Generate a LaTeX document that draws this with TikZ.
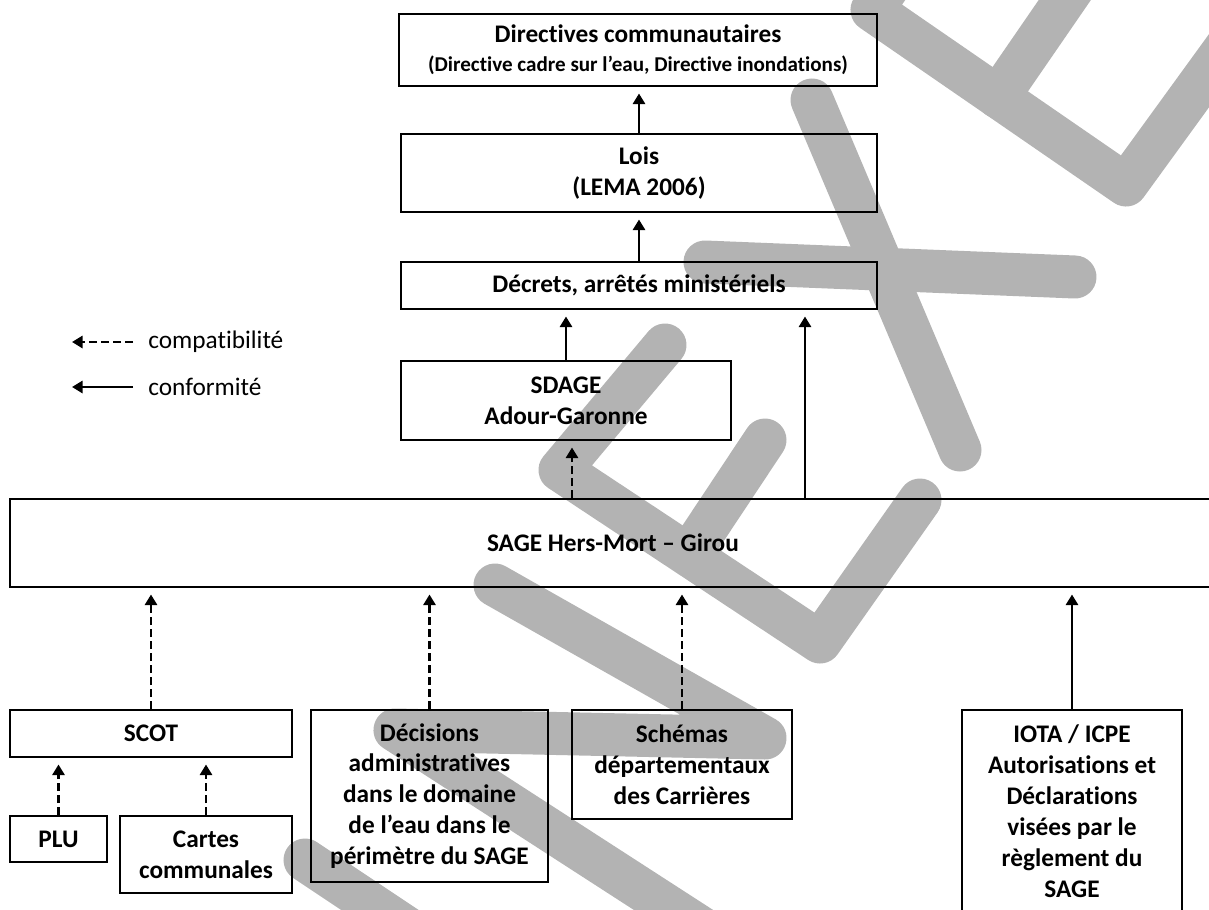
\documentclass[tikz,border=0pt]{standalone}
\usepackage{fontspec}
\setmainfont{Carlito}[Ligatures={TeX,NoCommon}]
\usetikzlibrary{arrows.meta}
\definecolor{filigrane}{RGB}{179,179,179}
\tikzset{
  box/.style={draw, line width=0.4mm, inner sep=0pt, align=center,
    font=\fontsize{14.4}{17.6}\selectfont\bfseries},
  legende/.style={inner sep=0pt, font=\fontsize{14.4}{17.6}\selectfont},
  conf/.style={line width=0.54mm, -{Triangle[length=2.1mm,width=2.4mm]}, shorten >=1.3mm},
  compat/.style={conf, dash pattern=on 1.6mm off 0.8mm},
  lettre/.style={filigrane, line width=8.6mm, line cap=round, line join=round},
}
\begin{document}
\begin{tikzpicture}[x=0.2mm, y=-0.2mm]
\useasboundingbox (0,0) rectangle (1209,910);
\clip (0,0) rectangle (1209,910);

% filigrane ANNEXE
\draw[lettre] (305,860) -- (470,970);
\draw[lettre] (495,585) -- (765,738) -- (395,730) -- (720,940);
\draw[lettre] (665,345) -- (560,470) -- (820,642) -- (920,500);
\draw[lettre] (690,553) -- (765,440);
\draw[lettre] (812,100) -- (960,450);
\draw[lettre] (705,262) -- (1075,277);
\draw[lettre] (970,-130) -- (872,10) -- (1126,185) -- (1240,28);
\draw[lettre] (998,97) -- (1082,-25);

% niveaux superieurs
\node[box, minimum width=95.6mm, minimum height=14.4mm] (directives) at (638,50)
  {Directives communautaires\\[-1.2pt]{\fontsize{12}{14}\selectfont (Directive cadre sur l’eau, Directive inondations)}};
\node[box, minimum width=95.2mm, minimum height=15.6mm] (lois) at (639,173) {Lois\\(LEMA 2006)};
\node[box, minimum width=95.2mm, minimum height=9.4mm] (decrets) at (639,285.5) {Décrets, arrêtés ministériels};
\node[box, minimum width=66mm, minimum height=15.8mm] (sdage) at (566,400.5) {SDAGE\\Adour-Garonne};
\node[box, minimum width=241.2mm, minimum height=17.6mm] (sage) at (613,543) {SAGE Hers-Mort – Girou};

% documents soumis
\node[box, minimum width=56.4mm, minimum height=9.4mm] (scot) at (151,733.5) {SCOT};
\node[box, minimum width=19.4mm, minimum height=9.2mm] (plu) at (58.5,839) {PLU};
\node[box, minimum width=34.4mm, minimum height=15.4mm] (cartes) at (206,854.5) {Cartes\\communales};
\node[box, minimum width=47.4mm, minimum height=34.4mm] (decisions) at (429.5,796)
  {Décisions\\administratives\\dans le domaine\\de l’eau dans le\\périmètre du SAGE};
\node[box, minimum width=44mm, minimum height=21.8mm] (schemas) at (682,764.5)
  {Schémas\\départementaux\\des Carrières};
\node[box, minimum width=44mm, minimum height=40.4mm] (iota) at (1072,811)
  {IOTA / ICPE\\Autorisations et\\Déclarations\\visées par le\\règlement du\\SAGE};

% liens
\coordinate (xsdage) at (572,0);
\coordinate (xconf) at (805,0);
\draw[conf] (lois.north) -- (lois.north |- directives.south);
\draw[conf] (decrets.north) -- (decrets.north |- lois.south);
\draw[conf] (sdage.north) -- (sdage.north |- decrets.south);
\draw[conf] (sage.north -| xconf) -- (decrets.south -| xconf);
\draw[compat] (sage.north -| xsdage) -- (sdage.south -| xsdage);
\draw[compat] (scot.north) -- (scot.north |- sage.south);
\draw[compat] (plu.north) -- (plu.north |- scot.south);
\draw[compat] (cartes.north) -- (cartes.north |- scot.south);
\draw[compat] (decisions.north) -- (decisions.north |- sage.south);
\draw[compat] (schemas.north) -- (schemas.north |- sage.south);
\draw[conf] (iota.north) -- (iota.north |- sage.south);

% legende
\node[legende, anchor=west] (lcompat) at (148,342) {compatibilité};
\node[legende, anchor=west] (lconf) at (148,387) {conformité};
\coordinate (lfin) at (72,0);
\draw[compat, shorten <=3mm, shorten >=0pt] (lcompat.west) -- (lcompat.west -| lfin);
\draw[conf, shorten <=3mm, shorten >=0pt] (lconf.west) -- (lconf.west -| lfin);
\end{tikzpicture}
\end{document}
